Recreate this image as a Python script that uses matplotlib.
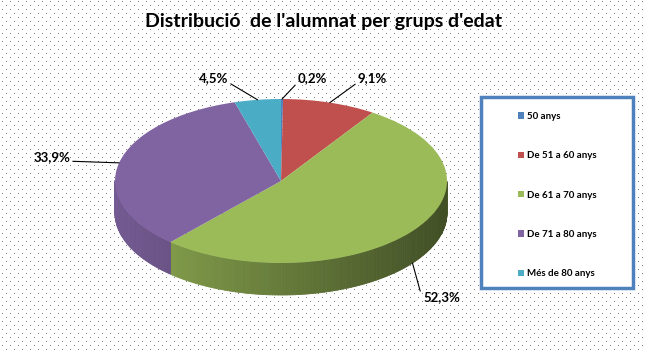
import numpy as np
import matplotlib.pyplot as plt
import matplotlib.colors as mcolors
from matplotlib.collections import PolyCollection
from matplotlib.patches import Rectangle

plt.rcParams['font.family'] = ['Lato', 'DejaVu Sans']

# Dades del gràfic
grups = ['50 anys', 'De 51 a 60 anys', 'De 61 a 70 anys', 'De 71 a 80 anys', 'Més de 80 anys']
percentatges = [0.2, 9.1, 52.3, 33.9, 4.5]
colors = ['#4F81BD', '#C0504D', '#9BBB59', '#8064A2', '#4BACC6']
titol = "Distribució  de l'alumnat per grups d'edat"

# Geometria en píxels (des de dalt)
W, H = 646, 353
CX, CY = 281, 181
RX, RY = 166, 82
DEPTH = 32 / RY

# posicions de les etiquetes (x, y, alineació)
pos_etiquetes = [(298, 78, 'left'), (358, 78, 'left'), (423, 297, 'left'),
                 (70, 157, 'right'), (228, 78, 'right')]


def px(x, y):
    return (x - CX) / RX, (CY - y) / RY


fig = plt.figure(figsize=(W / 100, H / 100), dpi=100)
fig.patch.set_facecolor('white')

# fons puntejat
bg = fig.add_axes([0, 0, 1, 1])
bg.set_xlim(0, W)
bg.set_ylim(H, 0)
bg.axis('off')
for i, yy in enumerate(np.arange(2, H, 4)):
    xs = np.arange(2 + (4 if i % 2 else 0), W, 8)
    bg.plot(xs, np.full_like(xs, yy), ',', color='#808080')

ax = fig.add_axes([0, 0, 1, 1])
ax.patch.set_visible(False)
wedges, _ = ax.pie(percentatges, colors=colors, startangle=90, counterclock=False,
                   radius=1, wedgeprops=dict(linewidth=0))
ax.set_aspect('auto')
ax.set_xlim(-CX / RX, (W - CX) / RX)
ax.set_ylim((CY - H) / RY, CY / RY)
ax.axis('off')

# lateral del pastís (part frontal)
polys, fcols = [], []
for w, c in zip(wedges, colors):
    rgb = np.array(mcolors.to_rgb(c))
    angs = np.linspace(w.theta1, w.theta2, max(int(w.theta2 - w.theta1) + 2, 2))
    for a0, a1 in zip(angs[:-1], angs[1:]):
        am = np.radians((a0 + a1) / 2)
        if np.sin(am) >= 0:
            continue
        r0, r1 = np.radians(a0), np.radians(a1)
        polys.append([(np.cos(r0), np.sin(r0)), (np.cos(r1), np.sin(r1)),
                      (np.cos(r1), np.sin(r1) - DEPTH), (np.cos(r0), np.sin(r0) - DEPTH)])
        f = 0.66 - 0.24 * np.cos(am)
        fcols.append(np.clip(rgb * f, 0, 1))
side = PolyCollection(polys, facecolors=fcols, edgecolors=fcols, linewidths=0.6, zorder=0.5)
ax.add_collection(side)

# etiquetes amb línies guia
for w, v, (tx, ty, ha) in zip(wedges, percentatges, pos_etiquetes):
    mid = np.radians((w.theta1 + w.theta2) / 2)
    ax_x, ax_y = np.cos(mid), np.sin(mid)
    if ax_y < 0:
        ax_y -= DEPTH
    rel = (0, 0.15) if ha == 'left' else (1, 0.15)
    ax.annotate(f"{v:.1f}%".replace('.', ','), xy=(ax_x, ax_y), xytext=px(tx, ty),
                ha=ha, va='center', fontsize=9.5, fontweight='bold',
                arrowprops=dict(arrowstyle='-', color='black', lw=0.8,
                                shrinkA=0, shrinkB=0, relpos=rel))

fig.text(324 / W, 1 - 22 / H, titol, ha='center', va='center',
         fontsize=14, fontweight='bold')

# llegenda
fig.add_artist(Rectangle((481 / W, 1 - 288 / H), 152 / W, 191 / H,
                         transform=fig.transFigure, facecolor='white',
                         edgecolor='#4F81BD', linewidth=2.5, zorder=2))
leg = fig.legend(wedges, grups, loc='upper left',
                 bbox_to_anchor=(518 / W, 1 - 112 / H), frameon=False,
                 prop=dict(weight='bold', size=7),
                 handlelength=0.6, handleheight=0.6, handletextpad=0.35,
                 labelspacing=3.12, borderpad=0, borderaxespad=0)
leg.set_zorder(3)

fig.savefig('out.png', dpi=100)
